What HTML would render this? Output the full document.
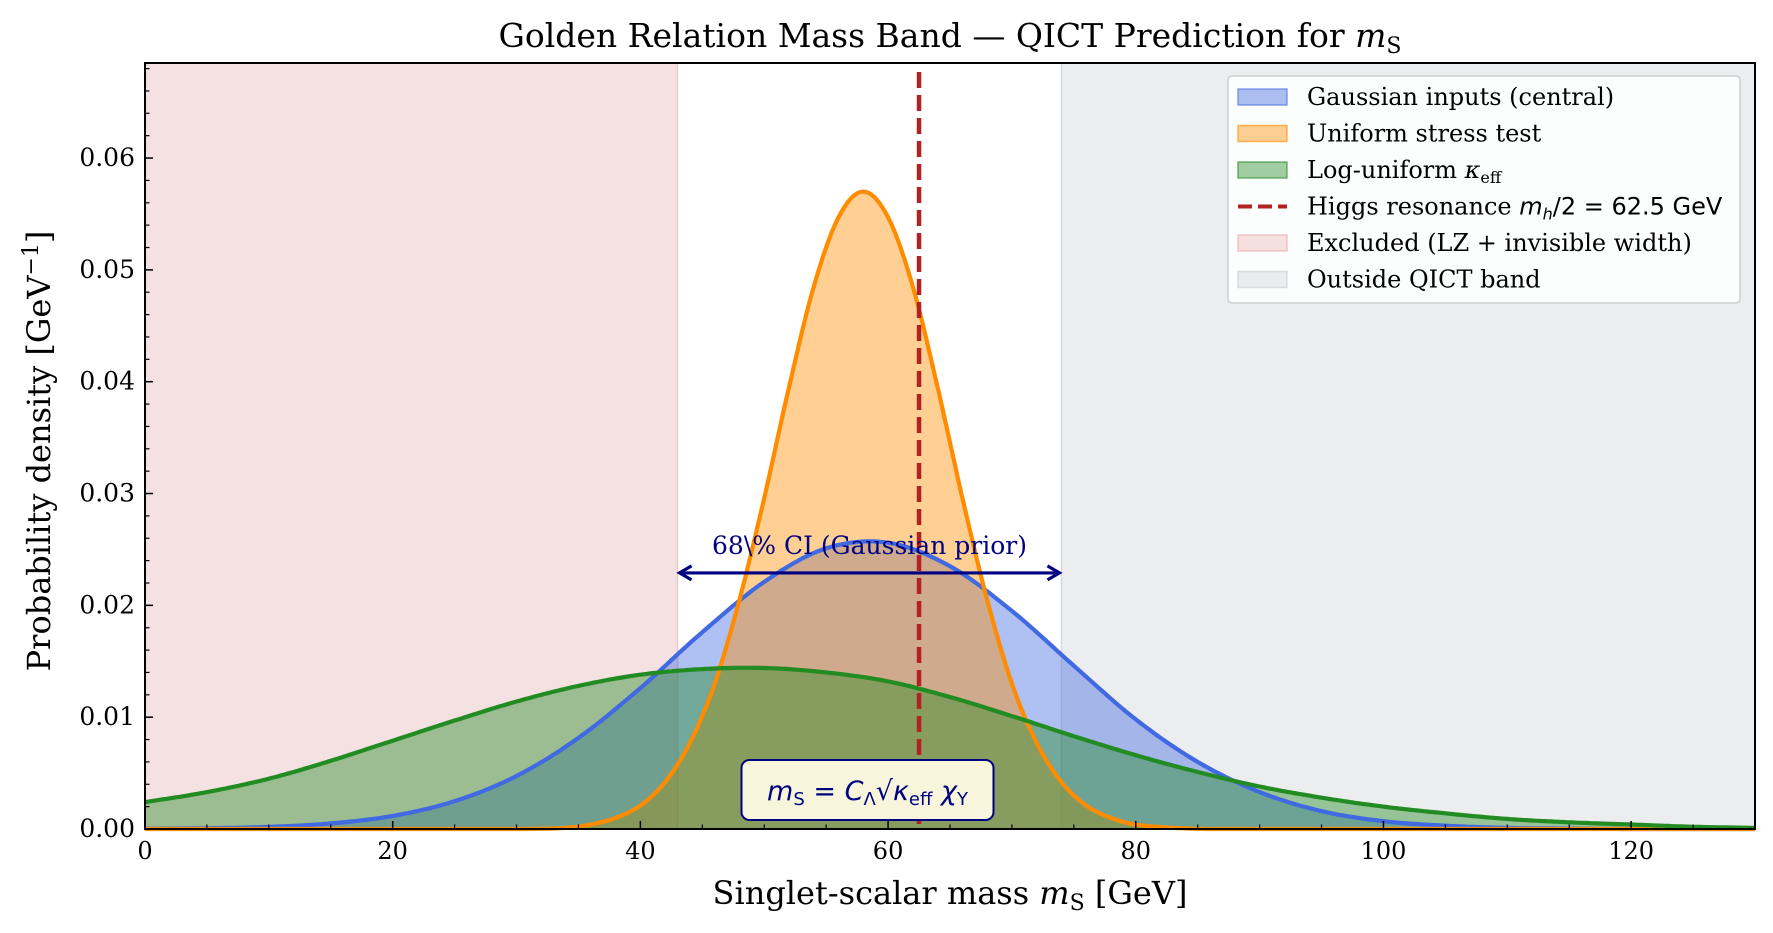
<!DOCTYPE html>
<html><head><meta charset="utf-8"><style>
html,body{margin:0;padding:0;background:#fff;}
svg{display:block;font-family:"DejaVu Serif","Liberation Serif",serif;}
</style></head><body>
<svg id="chart" width="1773" height="933" viewBox="0 0 1773 933" xmlns="http://www.w3.org/2000/svg">
<g id="bg"></g><g id="fills"></g><g id="lines"></g><g id="over"></g><g id="axes"></g>
</svg>
<script>
// ---- data ----
const blueX = [0,5,10,15,20,25,30,35,40,45,50,55,60,65,70,75,80,85,90,95,100,105,110,115,120,125,130];
const blueY = [0.00002,0.00007,0.00019,0.0005,0.00117,0.00249,0.00474,0.00815,0.0126,0.0176,0.0221,0.0251,0.0256,0.0235,0.0195,0.0146,0.0098,0.0060,0.0033,0.0016,0.0007,0.0003,0.0001,0.00004,0,0,0];
const orangeX = [0,30,34,36,38,40,42,44,46,48,50,52,54,56,58,60,62,64,66,68,70,72,74,76,78,80,84,88,130];
const orangeY = [0,0,0.0001,0.0004,0.0010,0.0021,0.0042,0.0077,0.0130,0.0205,0.0296,0.0395,0.0485,0.0547,0.0570,0.0547,0.0485,0.0395,0.0296,0.0205,0.0130,0.0077,0.0042,0.0021,0.0010,0.0004,0.00005,0,0];
const greenX = [0,5,10,15,20,25,30,35,40,45,50,55,60,65,70,75,80,85,90,95,100,105,110,115,120,125,130];
const greenY = [0.0024,0.0033,0.0045,0.0061,0.0079,0.0097,0.0114,0.0128,0.0138,0.0143,0.0144,0.0140,0.0132,0.0118,0.0101,0.0083,0.0066,0.0051,0.0038,0.0028,0.0020,0.0014,0.0009,0.0006,0.0004,0.0002,0.0001];
const xTicks = [0,20,40,60,80,100,120];
const yTicks = [0,0.01,0.02,0.03,0.04,0.05,0.06];
const excludedRange = [0,43];
const outsideRange = [74,130];
const higgsMass = 62.5;
const ciRange = [43,74];
const ciY = 0.0229;

// ---- axes ----
const L=145,R=1755,T=63,B=829, XMAX=130, YMAX=0.0685;
const sx=v=>L+(v/XMAX)*(R-L);
const sy=v=>B-(v/YMAX)*(B-T);
const NS="http://www.w3.org/2000/svg";
function mk(tag,attrs,parent,text){const e=document.createElementNS(NS,tag);for(const k in attrs)e.setAttribute(k,attrs[k]);if(text!==undefined)e.textContent=text;parent.appendChild(e);return e;}
const bg=document.getElementById('bg'),fills=document.getElementById('fills'),lines=document.getElementById('lines'),over=document.getElementById('over'),axes=document.getElementById('axes');

let r1=mk('rect',{x:sx(excludedRange[0]),y:T,width:sx(excludedRange[1])-sx(excludedRange[0]),height:B-T,fill:'#f4e2e2'},bg);


mk('line',{x1:sx(excludedRange[1]),x2:sx(excludedRange[1]),y1:T,y2:B,stroke:'#e8c8c8','stroke-width':1.5},bg);
let r2=mk('rect',{x:sx(outsideRange[0]),y:T,width:sx(outsideRange[1])-sx(outsideRange[0]),height:B-T,fill:'#ecedef'},bg);


mk('line',{x1:sx(outsideRange[0]),x2:sx(outsideRange[0]),y1:T,y2:B,stroke:'#d8d9dc','stroke-width':1.5},bg);

function sample(xs,ys){
  const n=xs.length,m=[];
  for(let i=0;i<n;i++){
    if(i===0)m[i]=(ys[1]-ys[0])/(xs[1]-xs[0]);
    else if(i===n-1)m[i]=(ys[n-1]-ys[n-2])/(xs[n-1]-xs[n-2]);
    else m[i]=(ys[i+1]-ys[i-1])/(xs[i+1]-xs[i-1]);
  }
  const pts=[];
  for(let i=0;i<n-1;i++){const h=xs[i+1]-xs[i];for(let k=0;k<20;k++){const t=k/20,t2=t*t,t3=t2*t;
    const y=(2*t3-3*t2+1)*ys[i]+(t3-2*t2+t)*h*m[i]+(-2*t3+3*t2)*ys[i+1]+(t3-t2)*h*m[i+1];
    pts.push([sx(xs[i]+t*h),sy(Math.max(0,y))]);}}
  pts.push([sx(xs[n-1]),sy(ys[n-1])]);return pts;
}
function series(xs,ys,color,name){
  const p=sample(xs,ys);
  const line=p.map((q,i)=>(i?'L':'M')+q[0].toFixed(1)+','+q[1].toFixed(1)).join('');
  const f=mk('path',{d:line+`L${sx(xs[xs.length-1])},${sy(0)}L${sx(xs[0])},${sy(0)}Z`,fill:color,'fill-opacity':0.42},fills);
  
  
  const l=mk('path',{d:line,fill:'none',stroke:color,'stroke-width':4.2,'stroke-linejoin':'round'},lines);
  
  
}
series(blueX,blueY,'#4169e1','gaussian-inputs');
series(orangeX,orangeY,'#ff8c00','uniform-stress-test');
series(greenX,greenY,'#228b22','log-uniform-kappa');

let h=mk('line',{x1:sx(higgsMass),x2:sx(higgsMass),y1:T+9,y2:B,stroke:'#b22222','stroke-width':4.5,'stroke-dasharray':'16 7'},over);



const ax1=sx(ciRange[0]),ax2=sx(ciRange[1]),ay=sy(ciY);
let arr=mk('g',{},over);


mk('line',{x1:ax1+4,x2:ax2-4,y1:ay,y2:ay,stroke:'#000080','stroke-width':3.2},arr);
mk('path',{d:`M${ax1+14},${ay-7}L${ax1+2},${ay}L${ax1+14},${ay+7}`,fill:'none',stroke:'#000080','stroke-width':3.2},arr);
mk('path',{d:`M${ax2-14},${ay-7}L${ax2-2},${ay}L${ax2-14},${ay+7}`,fill:'none',stroke:'#000080','stroke-width':3.2},arr);
let ct=mk('text',{x:(ax1+ax2)/2,y:ay-19,'text-anchor':'middle','font-size':25,fill:'#000080'},over,'68\\% CI (Gaussian prior)');



const bx=sx(58.5);
let fb=mk('g',{},over);


mk('rect',{x:bx-128,y:760,width:252,height:60,rx:8,fill:'#f7f6dc',stroke:'#000080','stroke-width':2},fb);
const ft=mk('text',{x:bx-2,y:800,'text-anchor':'middle','font-size':27,fill:'#000080','font-family':'DejaVu Sans, sans-serif'},fb);
ft.innerHTML='<tspan font-style="italic">m</tspan><tspan font-size="18" dy="5">S</tspan><tspan dy="-5"> = </tspan><tspan font-style="italic">C</tspan><tspan font-size="18" dy="5">Λ</tspan><tspan dy="-5">√</tspan><tspan font-style="italic">κ</tspan><tspan font-size="18" dy="5">eff</tspan><tspan dy="-5" font-style="italic"> χ</tspan><tspan font-size="18" dy="5">Y</tspan>';

mk('rect',{x:L,y:T,width:R-L,height:B-T,fill:'none',stroke:'#000','stroke-width':2},axes);
xTicks.forEach(v=>{mk('line',{x1:sx(v),x2:sx(v),y1:B,y2:B-8,stroke:'#000','stroke-width':1.5},axes);
  let t=mk('text',{x:sx(v),y:B+30,'text-anchor':'middle','font-size':24},axes,String(v));
  
  });
for(let v=5;v<XMAX;v+=5){if(v%20)mk('line',{x1:sx(v),x2:sx(v),y1:B,y2:B-4.5,stroke:'#000','stroke-width':1.2},axes);}
yTicks.forEach(v=>{mk('line',{x1:L,x2:L+8,y1:sy(v),y2:sy(v),stroke:'#000','stroke-width':1.5},axes);
  let t=mk('text',{x:L-10,y:sy(v)+8,'text-anchor':'end','font-size':25},axes,v.toFixed(2));
  
  });
for(let i=1;i*0.002<YMAX;i++){if(i%5)mk('line',{x1:L,x2:L+4.5,y1:sy(i*0.002),y2:sy(i*0.002),stroke:'#000','stroke-width':1.2},axes);}

let ti=mk('text',{x:950,y:47,'text-anchor':'middle','font-size':33},axes);
ti.innerHTML='Golden Relation Mass Band — QICT Prediction for <tspan font-style="italic">m</tspan><tspan font-size="22" dy="6">S</tspan>';


let xl=mk('text',{x:950,y:904,'text-anchor':'middle','font-size':32},axes);
xl.innerHTML='Singlet-scalar mass <tspan font-style="italic">m</tspan><tspan font-size="22" dy="6">S</tspan><tspan dy="-6"> [GeV]</tspan>';


let yl=mk('text',{x:0,y:0,'text-anchor':'middle','font-size':32,transform:'translate(50,451) rotate(-90)'},axes);
yl.innerHTML='Probability density [GeV<tspan font-size="22" dy="-12">−1</tspan><tspan dy="12">]</tspan>';



let lg=mk('g',{},axes);


mk('rect',{x:1228,y:76,width:512,height:227,rx:4,fill:'#fff','fill-opacity':0.85,stroke:'#d0d0d0','stroke-width':1.5},lg);
const items=[
 ['patch','#4169e1','Gaussian inputs (central)'],
 ['patch','#ff8c00','Uniform stress test'],
 ['patch','#228b22','Log-uniform <tspan font-style="italic">κ</tspan><tspan font-size="16" dy="5">eff</tspan>'],
 ['dash','#b22222','Higgs resonance <tspan font-family="DejaVu Sans, sans-serif"><tspan font-style="italic">m</tspan><tspan font-size="16" dy="5" font-style="italic">h</tspan><tspan dy="-5">/2 = 62.5 GeV</tspan></tspan>'],
 ['patch','#e8a8a8','Excluded (LZ + invisible width)'],
 ['patch','#c8cbd0','Outside QICT band']];
items.forEach((it,i)=>{const cy=97+i*36.5;
  const g=mk('g',{},lg);
  
  
  if(it[0]==='patch'){mk('rect',{x:1238,y:cy-8,width:49,height:16,fill:it[1],'fill-opacity':i>3?0.35:0.42,stroke:it[1],'stroke-opacity':0.6,'stroke-width':1.5},g);}
  else{mk('line',{x1:1238,x2:1287,y1:cy,y2:cy,stroke:it[1],'stroke-width':4,'stroke-dasharray':'14 6'},g);}
  const t=mk('text',{x:1307,y:cy+8,'font-size':24},g);t.innerHTML=it[2];});
</script>
</body></html>
